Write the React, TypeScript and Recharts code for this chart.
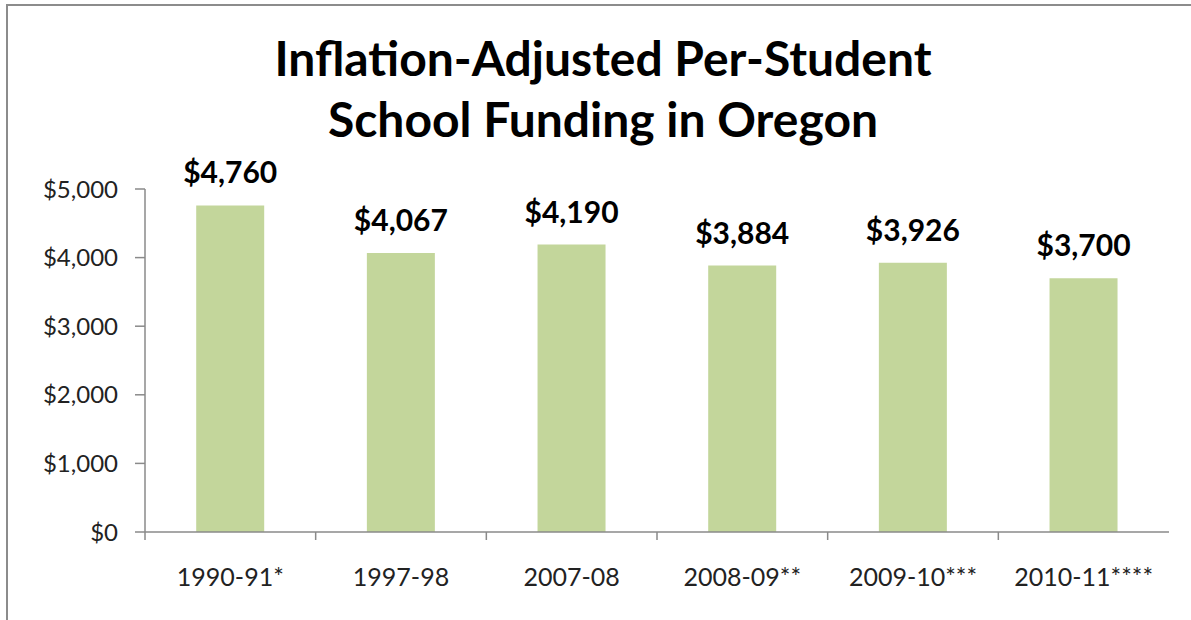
import React from "react";
import { BarChart, Bar, XAxis, YAxis, LabelList } from "recharts";

const categories = ["1990-91*", "1997-98", "2007-08", "2008-09**", "2009-10***", "2010-11****"];
const funding = [4760, 4067, 4190, 3884, 3926, 3700];
const yTicks = [0, 1000, 2000, 3000, 4000, 5000];
const titleLines = ["Inflation-Adjusted Per-Student", "School Funding in Oregon"];

const data = categories.map((c, i) => ({ name: c, value: funding[i] }));

const FONT = "Lato, 'Open Sans', sans-serif";
const AXIS = "#8a8a8a";

const money = (v: number) => "$" + v.toLocaleString("en-US");

const XTick = (props: any) => {
  const { x, y, payload, width } = props;
  const half = payload && payload.offset ? payload.offset : width / categories.length / 2;
  return (
    <g>
      <line x1={x - half} x2={x - half} y1={y - 8} y2={y} stroke={AXIS} strokeWidth={1.5} />
      <text x={x} y={y + 46} textAnchor="middle" fontFamily={FONT} fontSize={25} fill="#222">
        {payload.value}
      </text>
    </g>
  );
};

export default function App() {
  return (
    <div style={{ position: "absolute", left: 0, top: 0, width: 1191, height: 620, background: "#fff" }}>
      <div
        style={{
          position: "absolute",
          left: 6,
          top: 4,
          right: 0,
          bottom: 0,
          borderLeft: "2px solid #8c8c8c",
          borderTop: "2px solid #8c8c8c",
        }}
      />
      <div
        style={{
          position: "absolute",
          left: 0,
          width: 1206,
          top: 27,
          textAlign: "center",
          fontFamily: FONT,
          fontWeight: 700,
          fontSize: 48,
          lineHeight: "61px",
          color: "#000",
        }}
      >
        {titleLines.map((t) => (
          <div key={t}>{t}</div>
        ))}
      </div>
      <div style={{ position: "absolute", left: 0, top: 0 }}>
        <BarChart
          width={1191}
          height={620}
          data={data}
          margin={{ top: 189, right: 22, bottom: 0, left: 0 }}
          barCategoryGap="30%"
        >
          <XAxis
            dataKey="name"
            height={88}
            axisLine={{ stroke: AXIS, strokeWidth: 1.5 }}
            tickLine={false}
            tick={<XTick />}
            interval={0}
          />
          <YAxis
            width={145}
            domain={[0, 5000]}
            ticks={yTicks}
            tickFormatter={money}
            axisLine={{ stroke: AXIS, strokeWidth: 1.5 }}
            tickLine={{ stroke: AXIS, strokeWidth: 1.5 }}
            tickSize={10}
            tickMargin={17}
            tick={{ fontFamily: FONT, fontSize: 24, fill: "#222" }}
          />
          <Bar dataKey="value" fill="#C3D69B" isAnimationActive={false}>
            <LabelList
              dataKey="value"
              position="top"
              offset={22}
              formatter={(v: any) => money(Number(v))}
              style={{ fontFamily: FONT, fontWeight: 700, fontSize: 30, fill: "#000" }}
            />
          </Bar>
        </BarChart>
      </div>
    </div>
  );
}
